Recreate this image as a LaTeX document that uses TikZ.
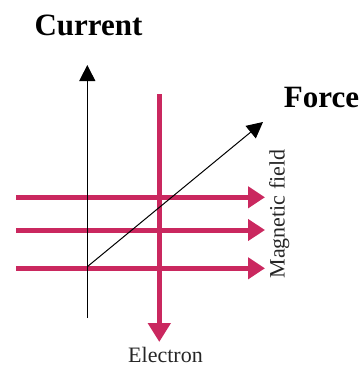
\documentclass[tikz,border=0pt]{standalone}
\usepackage{fontspec}
\setmainfont{Liberation Serif}
\usetikzlibrary{arrows.meta}
\definecolor{fieldred}{RGB}{202,40,95}
\tikzset{
  blackarrow/.style={line width=1pt,-{Triangle[length=16pt,width=16pt]}},
  fieldarrow/.style={fieldred,line width=5pt,-{Triangle[length=17pt,width=21pt]}},
  electronarrow/.style={fieldred,line width=5pt,-{Triangle[length=19pt,width=22pt]}},
  biglabel/.style={font=\fontsize{31}{33}\selectfont\bfseries,inner sep=0pt,anchor=base},
  smalllabel/.style={font=\fontsize{22}{24}\selectfont,text=black!85,inner sep=0pt,anchor=base}
}
\begin{document}
\begin{tikzpicture}[x=1pt,y=-1pt]
\useasboundingbox (0,0) rectangle (360,367);

\coordinate (o) at (87.3,266.7);
\coordinate (currenttip) at (87.3,65);
\coordinate (currentend) at (87.3,318);
\coordinate (forcetip) at (263,122);
\coordinate (etop) at (159.3,94);
\coordinate (ebottom) at (159.3,342);

\draw[fieldarrow] (16,197.3) coordinate (b1) -- (265,197.3) coordinate (f1);
\draw[fieldarrow] (16,230) coordinate (b2) -- (265,230) coordinate (f2);
\draw[fieldarrow] (16,268.3) coordinate (b3) -- (265,268.3) coordinate (f3);
\draw[electronarrow] (etop) -- (ebottom);

\draw[blackarrow] (currentend) -- (currenttip);
\draw[blackarrow] (o) -- (forcetip);

\node[biglabel] (current) at (88.5,35) {Current};
\node[biglabel] (force) at (321.5,107) {Force};
\node[smalllabel,rotate=90] (field) at (284.5,214) {Magnetic field};
\node[smalllabel] (electron) at (165.5,362) {Electron};
\end{tikzpicture}
\end{document}
